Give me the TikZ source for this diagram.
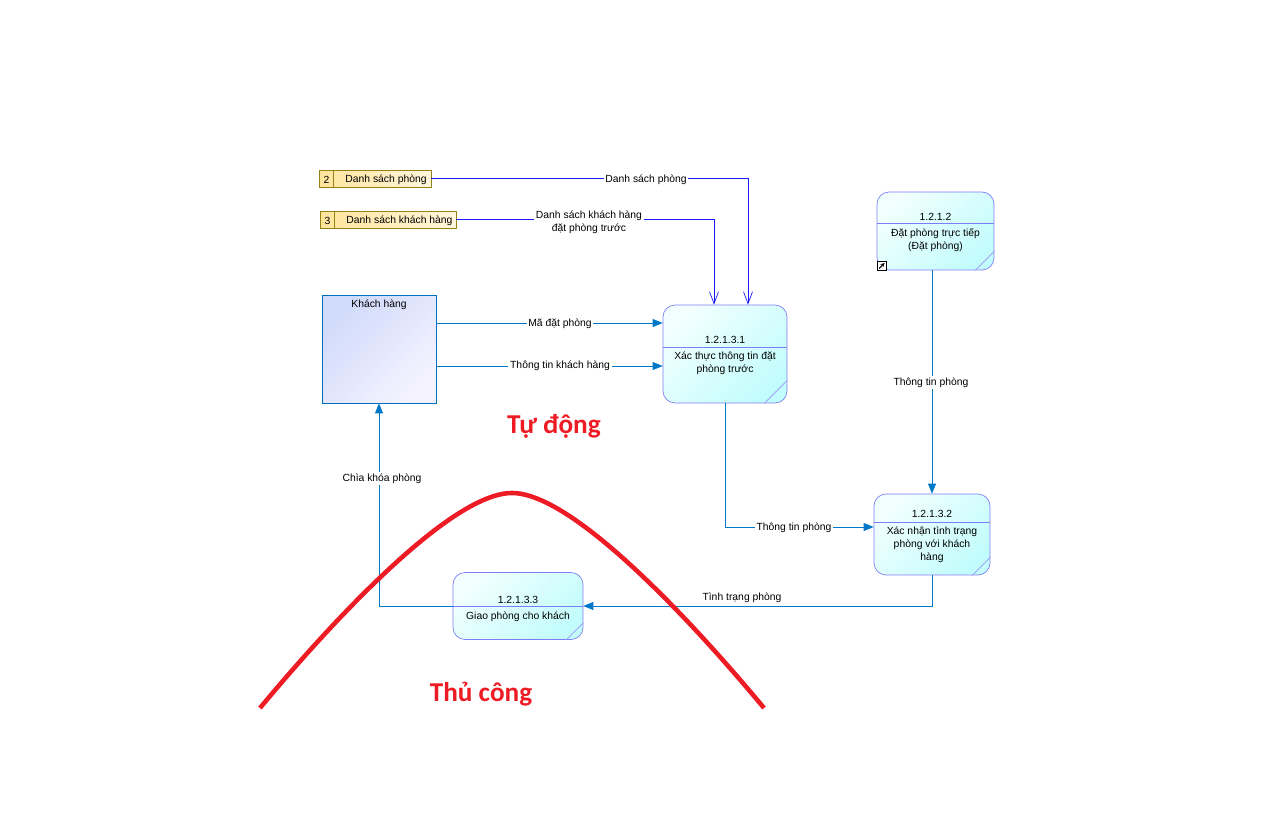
\documentclass[tikz,border=0pt]{standalone}
\usepackage{fontspec}
\setmainfont{Liberation Sans}
\newfontfamily\calib{Carlito}
\usepackage{tikz}
\usetikzlibrary{arrows.meta,positioning}

\definecolor{flowblue}{RGB}{0,120,200}
\definecolor{storeblue}{RGB}{25,25,255}
\definecolor{procline}{RGB}{125,125,245}
\definecolor{proclight}{RGB}{242,255,255}
\definecolor{procdark}{RGB}{195,252,252}
\definecolor{entline}{RGB}{0,110,190}
\definecolor{entdark}{RGB}{208,218,250}
\definecolor{entlight}{RGB}{245,243,255}
\definecolor{storeline}{RGB}{150,130,20}
\definecolor{storedark}{RGB}{255,228,155}
\definecolor{storelight}{RGB}{255,246,220}
\definecolor{bellred}{RGB}{237,28,36}

\begin{document}
\begin{tikzpicture}[x=0.02cm, y=-0.02cm,
  txt/.style={font=\fontsize{5.9}{7.4}\selectfont, align=center, inner sep=0pt, yshift=-0.03cm},
  proc/.style={draw=procline, rounded corners=0.24cm, top color=proclight,
    bottom color=procdark, shading angle=45},
  entity/.style={draw=entline, top color=entdark, bottom color=entlight,
    shading angle=45, minimum width=2.28cm, minimum height=2.16cm},
  store/.style={draw=storeline, left color=storedark, right color=storelight,
    minimum height=0.34cm},
  flow/.style={draw=flowblue, -{Triangle[length=0.2cm,width=0.16cm]}},
  storeflow/.style={draw=storeblue, -{Straight Barb[length=0.24cm,width=0.18cm]}},
  flowlabel/.style={txt, fill=white, inner xsep=1pt, inner ysep=1pt},
  corner/.style={draw=procline!80},
  redlabel/.style={font=\calib\bfseries\fontsize{15.5}{18}\selectfont, text=bellred}]

  \useasboundingbox (0,0) rectangle (1272,825);

  % kho du lieu
  \node[store, minimum width=2.24cm] (s2) at (375,178.5) {};
  \draw[storeline] ([xshift=0.3cm]s2.north west) -- ([xshift=0.3cm]s2.south west);
  \node[txt] (s2n) at (326.5,178.5) {2};
  \node[txt] (s2t) at (386,178.5) {Danh sách phòng};

  \node[store, minimum width=2.72cm] (s3) at (388,219.5) {};
  \draw[storeline] ([xshift=0.3cm]s3.north west) -- ([xshift=0.3cm]s3.south west);
  \node[txt] (s3n) at (327.5,219.5) {3};
  \node[txt] (s3t) at (399.5,219.5) {Danh sách khách hàng};

  % tac nhan
  \node[entity] (kh) at (379,349) {};
  \node[txt] (kht) at (379,303) {Khách hàng};

  % tien trinh
  \node[proc, minimum width=2.48cm, minimum height=1.96cm] (p1) at (725,354) {};
  \draw[procline] (p1.west |- 0,347) -- (p1.east |- 0,347);
  \draw[corner] ([xshift=-0.46cm]p1.south east) -- ([yshift=0.46cm]p1.south east);
  \node[txt] (p1n) at (725,338) {1.2.1.3.1};
  \node[txt] (p1t) at (725,361.5) {Xác thực thông tin đặt\\phòng trước};

  \node[proc, minimum width=2.34cm, minimum height=1.56cm] (p12) at (935.5,231) {};
  \draw[procline] (p12.west |- 0,223) -- (p12.east |- 0,223);
  \draw[corner] ([xshift=-0.38cm]p12.south east) -- ([yshift=0.38cm]p12.south east);
  \node[txt] (p12n) at (935.5,215) {1.2.1.2};
  \node[txt] (p12t) at (935.5,238.5) {Đặt phòng trực tiếp\\(Đặt phòng)};
  \draw[fill=white] (877,270) rectangle (886,261);
  \draw[-{Stealth[length=0.08cm,width=0.08cm]}, line width=0.6pt] (879,268.5) -- (884.5,263);

  \node[proc, minimum width=2.32cm, minimum height=1.62cm] (p2) at (932,534.5) {};
  \draw[procline] (p2.west |- 0,522) -- (p2.east |- 0,522);
  \draw[corner] ([xshift=-0.36cm]p2.south east) -- ([yshift=0.36cm]p2.south east);
  \node[txt] (p2n) at (932,512) {1.2.1.3.2};
  \node[txt] (p2t) at (932,543) {Xác nhận tình trạng\\phòng với khách\\hàng};

  \node[proc, minimum width=2.6cm, minimum height=1.34cm] (p3) at (518,606) {};
  \draw[procline] (p3.west) -- (p3.east);
  \draw[corner] ([xshift=-0.34cm]p3.south east) -- ([yshift=0.34cm]p3.south east);
  \node[txt] (p3n) at (518,598) {1.2.1.3.3};
  \node[txt] (p3t) at (518,615) {Giao phòng cho khách};

  % luong du lieu
  \draw[storeflow] (s2.east) -| ([xshift=0.46cm]p1.north);
  \node[flowlabel] (l1) at (646,178) {Danh sách phòng};
  \draw[storeflow] (s3.east) -| ([xshift=-0.22cm]p1.north);
  \node[flowlabel] (l2) at (589,221) {Danh sách khách hàng\\đặt phòng trước};

  \draw[flow] (kh.east |- 0,323) -- (p1.west |- 0,323);
  \node[flowlabel] (l3) at (560,322) {Mã đặt phòng};
  \draw[flow] (kh.east |- 0,366) -- (p1.west |- 0,366);
  \node[flowlabel] (l4) at (560,364.5) {Thông tin khách hàng};

  \draw[flow] (p1.south) |- (p2.west |- 0,527);
  \node[flowlabel] (l5) at (794,526.5) {Thông tin phòng};
  \draw[flow] (p2.north |- p12.south) -- (p2.north);
  \node[flowlabel] (l6) at (931,381) {Thông tin phòng};
  \draw[flow] (p2.south) |- (p3.east);
  \node[txt] (l7) at (742,596) {Tình trạng phòng};
  \draw[flow] (p3.west) -| (kh.south);
  \node[flowlabel] (l8) at (382,477) {Chìa khóa phòng};

  % duong cong
  \draw[bellred, line width=2.6pt] (260,708) .. controls (290,672) and (440,493) .. (512,493)
    .. controls (584,493) and (734,672) .. (764,708);
  \node[redlabel] (auto) at (554,426) {Tự động};
  \node[redlabel] (manual) at (481,694) {Thủ công};
\end{tikzpicture}
\end{document}
